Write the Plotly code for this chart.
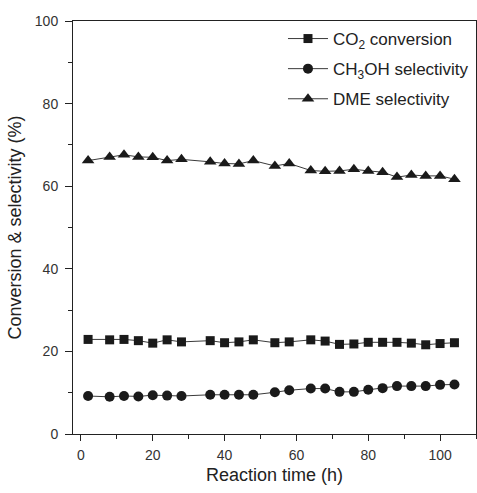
import plotly.graph_objects as go

time_h = [2, 8, 12, 16, 20, 24, 28, 36, 40, 44, 48, 54, 58, 64, 68, 72, 76, 80, 84, 88, 92, 96, 100, 104]
co2_conversion = [22.9, 22.8, 22.9, 22.6, 22.0, 22.8, 22.3, 22.6, 22.1, 22.3, 22.8, 22.1, 22.3, 22.8, 22.5, 21.7, 21.8, 22.2, 22.2, 22.2, 22.0, 21.6, 21.9, 22.1]
ch3oh_selectivity = [9.2, 9.0, 9.2, 9.1, 9.4, 9.3, 9.2, 9.5, 9.5, 9.5, 9.5, 10.1, 10.6, 11.0, 11.0, 10.2, 10.2, 10.7, 11.1, 11.6, 11.6, 11.6, 11.9, 12.0]
dme_selectivity = [66.2, 67.1, 67.6, 67.1, 67.0, 66.2, 66.5, 65.9, 65.5, 65.4, 66.2, 64.9, 65.5, 63.8, 63.6, 63.7, 64.1, 63.7, 63.4, 62.2, 62.7, 62.5, 62.5, 61.7]

names = ["CO<sub>2</sub> conversion", "CH<sub>3</sub>OH selectivity", "DME selectivity"]
series = [co2_conversion, ch3oh_selectivity, dme_selectivity]
symbols = ["square", "circle", "triangle-up"]
sizes = [9, 10, 11]

fig = go.Figure()
for i, (nm, ys, sym, sz) in enumerate(zip(names, series, symbols, sizes)):
    fig.add_trace(go.Scatter(
        x=time_h, y=ys, name=nm, mode="lines+markers", legendgroup=f"g{i}",
        line=dict(color="#3a3a3a", width=1),
        marker=dict(symbol=sym, size=sz, color="#1a1a1a"),
    ))

axis_common = dict(
    showline=True, linecolor="#222", linewidth=1, mirror=True,
    showgrid=False, zeroline=False, ticks="outside", tickcolor="#222",
    tickfont=dict(size=14, color="#333"),
)
fig.update_layout(
    width=477, height=493,
    margin=dict(l=73, r=1, t=21, b=59),
    paper_bgcolor="white", plot_bgcolor="white",
    font=dict(family="Liberation Sans, Arial, sans-serif", color="#222"),
    xaxis=dict(range=[-2.2, 110], tickvals=[0, 20, 40, 60, 80, 100], ticklen=6,
               minor=dict(dtick=10, tick0=0, ticks="outside", ticklen=4, tickcolor="#222"),
               title=dict(text="Reaction time (h)", font=dict(size=18), standoff=6),
               ticklabelstandoff=2,
               **axis_common),
    xaxis2=dict(range=[-2.2, 110], overlaying="x", side="top", anchor="y",
                showline=False, showgrid=False, zeroline=False, showticklabels=False,
                ticks="inside", ticklen=3, tickcolor="#888", dtick=10, tick0=0),
    yaxis=dict(range=[0, 100], tickvals=[0, 20, 40, 60, 80, 100], ticklen=7,
               minor=dict(dtick=10, tick0=0, ticks="outside", ticklen=4, tickcolor="#222"),
               title=dict(text="Conversion & selectivity (%)", font=dict(size=18), standoff=8),
               ticklabelstandoff=4,
               **axis_common),
    legend=dict(x=0.995, y=1.0, xanchor="right", yanchor="top",
                bgcolor="rgba(0,0,0,0)", font=dict(size=17, color="#222"),
                tracegroupgap=5, itemwidth=40),
    showlegend=True,
)
fig.write_html("out.html")
